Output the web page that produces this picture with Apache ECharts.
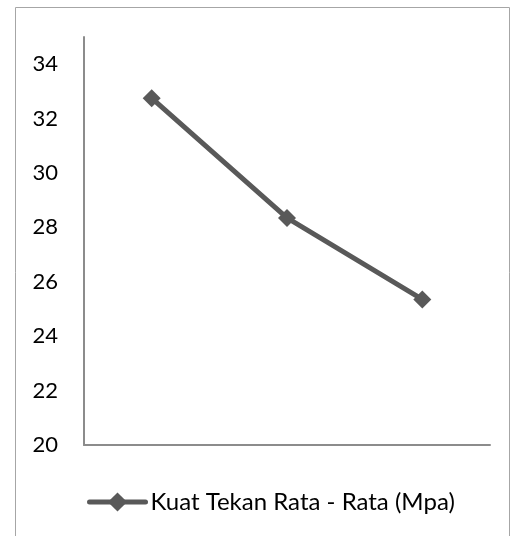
<!DOCTYPE html>
<html>
<head>
<meta charset="utf-8">
<script src="https://cdn.jsdelivr.net/npm/echarts@6/dist/echarts.min.js"></script>
<style>
  html, body { margin: 0; padding: 0; background: #fff; }
  #chart { width: 519px; height: 536px; }
</style>
</head>
<body>
<div id="chart"></div>
<script>
// Average compressive strength for three mixes
const categories = ['A', 'B', 'C'];
const strengthValues = [32.75, 28.35, 25.35];
const seriesName = 'Kuat Tekan Rata - Rata (Mpa)';

const chart = echarts.init(document.getElementById('chart'), null, { renderer: 'canvas' });
const fontFamily = 'Lato, "Open Sans", sans-serif';

chart.setOption({
  animation: false,
  backgroundColor: '#ffffff',
  graphic: [{
    type: 'rect',
    shape: { x: 15.5, y: 7.5, width: 494, height: 540 },
    style: { fill: 'none', stroke: '#a6a6a6', lineWidth: 1 },
    silent: true
  }],
  grid: { left: 84, right: 29, top: 37, bottom: 91 },
  legend: {
    data: [seriesName],
    top: 485,
    left: 82,
    itemWidth: 56,
    itemHeight: 24,
    itemGap: 2,
    lineStyle: { color: '#595959', width: 5, cap: 'round' },
    itemStyle: { color: '#595959' },
    textStyle: { fontFamily: fontFamily, fontSize: 24, color: '#000' }
  },
  xAxis: {
    type: 'category',
    data: categories,
    boundaryGap: true,
    axisLine: { lineStyle: { color: '#8c8c8c', width: 2 } },
    axisTick: { show: false },
    axisLabel: { show: false },
    splitLine: { show: false }
  },
  yAxis: {
    type: 'value',
    min: 20,
    max: 35,
    interval: 2,
    axisLine: { show: true, lineStyle: { color: '#8c8c8c', width: 2 } },
    axisTick: { show: false },
    splitLine: { show: false },
    axisLabel: {
      showMaxLabel: false,
      margin: 26,
      fontFamily: fontFamily,
      fontSize: 22,
      color: '#000',
      formatter: v => (v > 34 ? '' : String(v))
    }
  },
  series: [{
    name: seriesName,
    type: 'line',
    data: strengthValues,
    symbol: 'diamond',
    symbolSize: 18,
    lineStyle: { color: '#595959', width: 5 },
    itemStyle: { color: '#595959' }
  }]
});
</script>
</body>
</html>
